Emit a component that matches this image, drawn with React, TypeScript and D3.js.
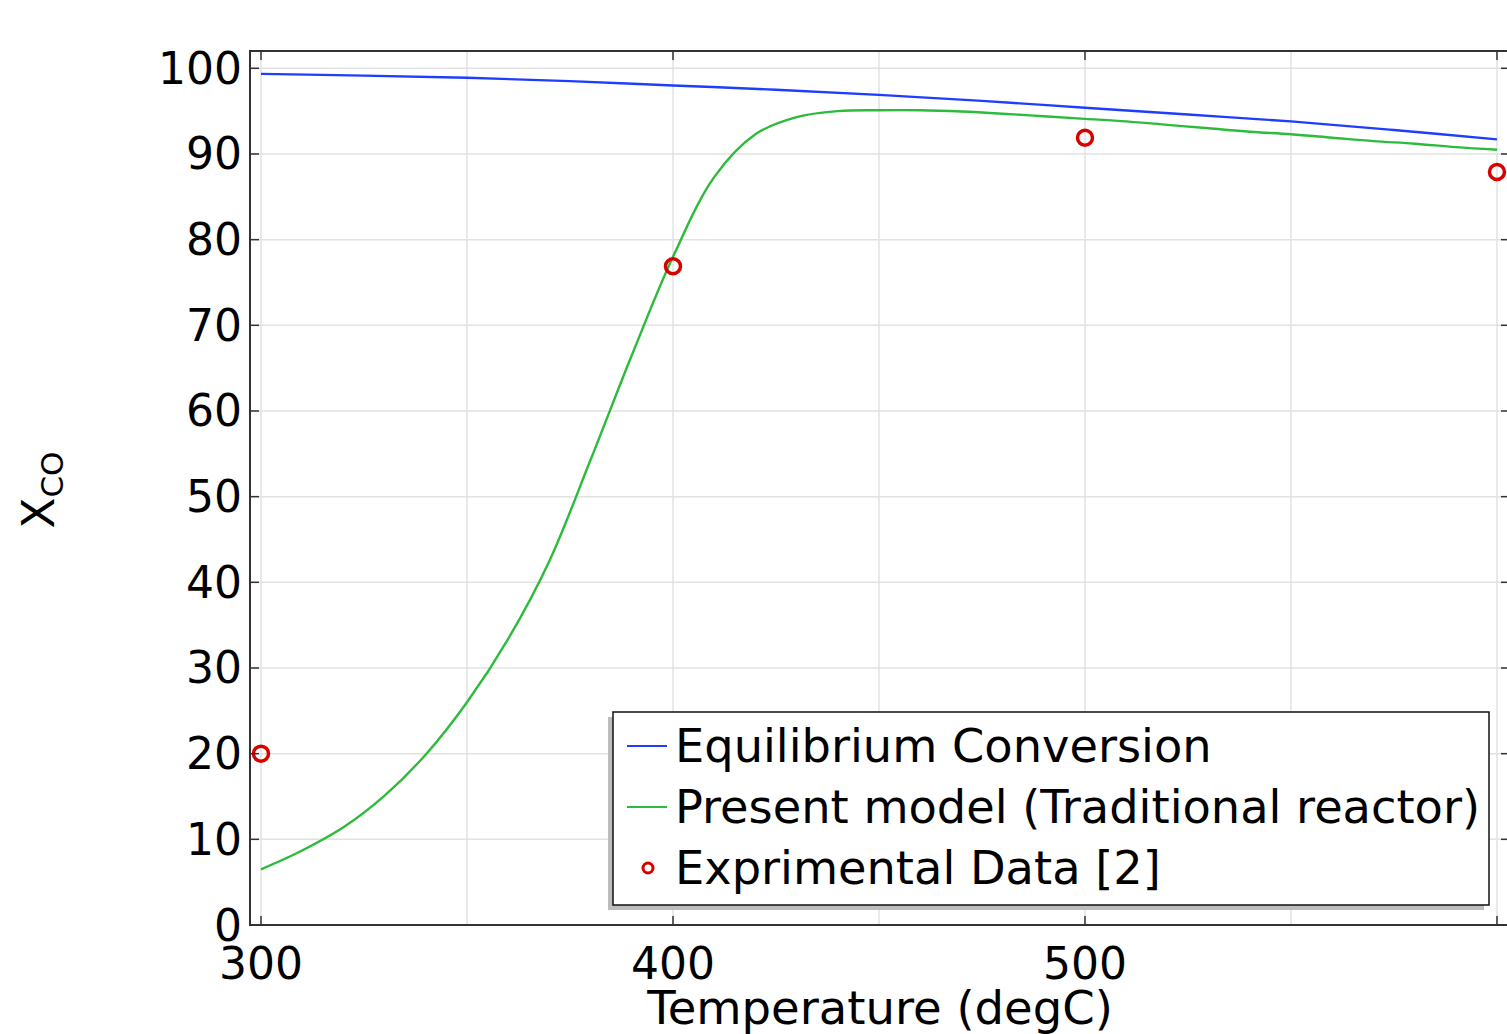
import React from "react";
import * as d3 from "d3";

const eqT = [300, 325, 350, 375, 400, 425, 450, 475, 500, 525, 550, 575, 600];
const eqX = [99.35, 99.15, 98.9, 98.5, 98.0, 97.5, 96.9, 96.2, 95.4, 94.6, 93.8, 92.8, 91.7];

const modelT = [300, 310, 320, 330, 340, 350, 360, 370, 380, 390, 400, 410, 420, 430, 440, 450, 460, 470, 480, 490, 500, 510, 520, 530, 540, 550, 560, 570, 580, 590, 600];
const modelX = [6.5, 8.7, 11.4, 15.1, 19.9, 26.0, 33.4, 42.5, 54.3, 66.5, 78.0, 87.3, 92.3, 94.3, 95.0, 95.1, 95.1, 94.95, 94.7, 94.4, 94.1, 93.8, 93.4, 93.0, 92.6, 92.3, 91.9, 91.5, 91.2, 90.8, 90.5];

const expT = [300, 400, 500, 600];
const expX = [20.0, 76.9, 91.9, 87.9];

const xTicks = [300, 400, 500, 600];
const xGrid = [300, 350, 400, 450, 500, 550, 600];
const yTicks = [0, 10, 20, 30, 40, 50, 60, 70, 80, 90, 100];

const legendLabels = ["Equilibrium Conversion", "Present model (Traditional reactor)", "Exprimental Data [2]"];

const W = 1507;
const H = 1034;
const left = 250, top = 51, right = 1510, bottom = 925;

const BLUE = "#1f3dff";
const GREEN = "#2dbb3c";
const RED = "#d90000";
const FONT = "DejaVu Sans, Verdana, sans-serif";

export default function App() {
  const x = d3.scaleLinear().domain([297.33, 603.16]).range([left, right]);
  const y = d3.scaleLinear().domain([0, 102.02]).range([bottom, top]);

  const line = d3
    .line<[number, number]>()
    .x((d) => x(d[0]))
    .y((d) => y(d[1]))
    .curve(d3.curveCatmullRom.alpha(0.5));

  const eqPath = line(eqT.map((t, i) => [t, eqX[i]]) as [number, number][]) || "";
  const modelPath = line(modelT.map((t, i) => [t, modelX[i]]) as [number, number][]) || "";

  const tickLen = 9;
  const lgX = 613, lgY = 712, lgW = 876, lgH = 193;
  const rowY = [746, 807, 868];

  return (
    <svg
      width={W}
      height={H}
      style={{ position: "absolute", left: 0, top: 0, background: "#fff" }}
      fontFamily={FONT}
    >
      <rect x={0} y={0} width={W} height={H} fill="#fff" />
      <defs>
        <clipPath id="plotclip">
          <rect x={left} y={top} width={right - left} height={bottom - top} />
        </clipPath>
      </defs>
      {/* grid */}
      <g stroke="#e2e2e2" strokeWidth={1.5}>
        {xGrid.map((t) => (
          <line key={"gx" + t} x1={x(t)} x2={x(t)} y1={top} y2={bottom} />
        ))}
        {yTicks.map((v) => (
          <line key={"gy" + v} x1={left} x2={right} y1={y(v)} y2={y(v)} />
        ))}
      </g>
      {/* data lines */}
      <g clipPath="url(#plotclip)">
        <path d={eqPath} fill="none" stroke={BLUE} strokeWidth={2.4} />
        <path d={modelPath} fill="none" stroke={GREEN} strokeWidth={2.4} />
        {expT.map((t, i) => (
          <circle key={"e" + t} cx={x(t)} cy={y(expX[i])} r={7.5} fill="none" stroke={RED} strokeWidth={3.5} />
        ))}
      </g>
      {/* ticks */}
      <g stroke="#333" strokeWidth={1.5}>
        {yTicks.map((v) => (
          <g key={"ty" + v}>
            <line x1={left} x2={left + tickLen} y1={y(v)} y2={y(v)} />
            <line x1={right} x2={right - tickLen} y1={y(v)} y2={y(v)} />
          </g>
        ))}
        {xTicks.map((t) => (
          <g key={"tx" + t}>
            <line x1={x(t)} x2={x(t)} y1={bottom} y2={bottom - tickLen} />
            <line x1={x(t)} x2={x(t)} y1={top} y2={top + tickLen} />
          </g>
        ))}
      </g>
      {/* frame */}
      <rect x={left} y={top} width={right - left} height={bottom - top} fill="none" stroke="#333" strokeWidth={2} />
      {/* tick labels */}
      <g fontSize={44} fill="#000">
        {yTicks.map((v) => (
          <text key={"ly" + v} x={left - 8} y={y(v)} textAnchor="end" dominantBaseline="central">
            {v}
          </text>
        ))}
        {xTicks.slice(0, 3).map((t) => (
          <text key={"lx" + t} x={x(t)} y={963} textAnchor="middle" dominantBaseline="central">
            {t}
          </text>
        ))}
      </g>
      {/* axis titles */}
      <text x={880} y={1024} fontSize={46.5} textAnchor="middle" fill="#000">
        Temperature (degC)
      </text>
      <text transform="translate(54, 490) rotate(-90)" fontSize={45} textAnchor="middle" fill="#000">
        <tspan>X</tspan>
        <tspan fontSize={31} dy={9}>CO</tspan>
      </text>
      {/* legend */}
      <rect x={lgX - 5} y={lgY + 5} width={lgW} height={lgH} fill="#bdbdbd" />
      <rect x={lgX} y={lgY} width={lgW} height={lgH} fill="#fff" stroke="#111" strokeWidth={1.5} />
      <line x1={627} x2={667} y1={rowY[0]} y2={rowY[0]} stroke={BLUE} strokeWidth={2} />
      <line x1={627} x2={667} y1={rowY[1]} y2={rowY[1]} stroke={GREEN} strokeWidth={2} />
      <circle cx={648} cy={rowY[2]} r={5} fill="none" stroke={RED} strokeWidth={3} />
      <g fontSize={46.3} fill="#000">
        {legendLabels.map((l, i) => (
          <text key={l} x={675} y={rowY[i]} dominantBaseline="central">
            {l}
          </text>
        ))}
      </g>
    </svg>
  );
}
